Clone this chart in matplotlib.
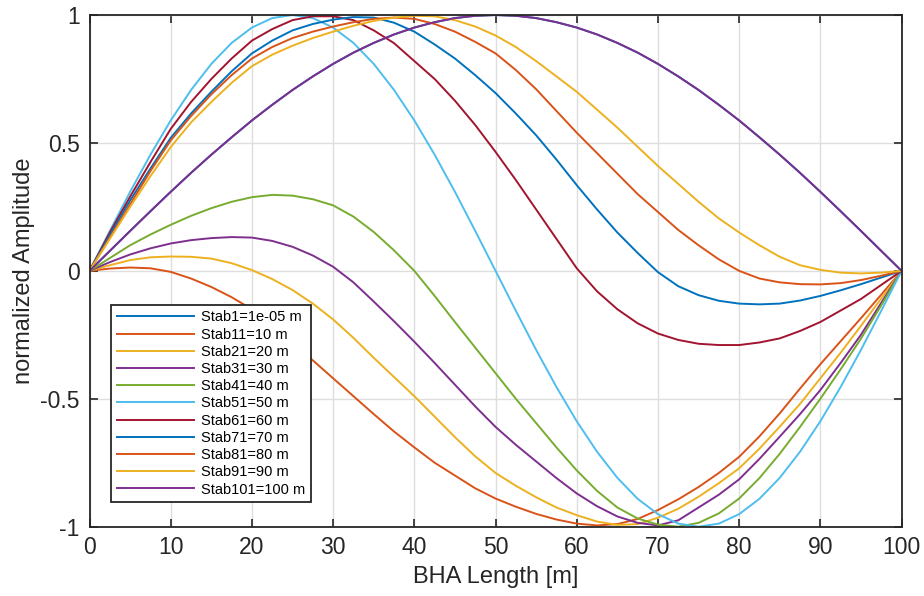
import matplotlib
matplotlib.use("Agg")
import matplotlib.pyplot as plt

bha_x = [0, 2.5, 5, 7.5, 10, 12.5, 15, 17.5, 20, 22.5, 25, 27.5, 30, 32.5, 35, 37.5,
         40, 42.5, 45, 47.5, 50, 52.5, 55, 57.5, 60, 62.5, 65, 67.5, 70, 72.5, 75,
         77.5, 80, 82.5, 85, 87.5, 90, 92.5, 95, 97.5, 100]

# normalized amplitude of each mode shape
stab1 = [0, 0.078, 0.156, 0.233, 0.309, 0.383, 0.454, 0.522, 0.588, 0.649, 0.707,
         0.760, 0.809, 0.853, 0.891, 0.924, 0.951, 0.972, 0.988, 0.997, 1.0,
         0.997, 0.988, 0.972, 0.951, 0.924, 0.891, 0.853, 0.809, 0.760, 0.707,
         0.649, 0.588, 0.522, 0.454, 0.383, 0.309, 0.233, 0.156, 0.078, 0]
stab11 = [0, 0.009, 0.013, 0.010, -0.004, -0.030, -0.063, -0.103, -0.150, -0.213, -0.280,
          -0.350, -0.420, -0.490, -0.560, -0.628, -0.690, -0.750, -0.800, -0.850, -0.890,
          -0.922, -0.950, -0.972, -0.988, -0.995, -0.990, -0.970, -0.935, -0.893, -0.845,
          -0.790, -0.727, -0.647, -0.557, -0.460, -0.365, -0.275, -0.185, -0.093, 0]
stab21 = [0, 0.022, 0.042, 0.053, 0.056, 0.055, 0.048, 0.030, 0.003, -0.032, -0.075,
          -0.128, -0.190, -0.262, -0.340, -0.415, -0.490, -0.570, -0.650, -0.725, -0.790,
          -0.840, -0.885, -0.925, -0.955, -0.980, -0.993, -0.990, -0.965, -0.930, -0.883,
          -0.830, -0.772, -0.695, -0.609, -0.520, -0.420, -0.320, -0.215, -0.108, 0]
stab31 = [0, 0.034, 0.064, 0.088, 0.107, 0.120, 0.128, 0.132, 0.130, 0.117, 0.094,
          0.060, 0.016, -0.045, -0.120, -0.197, -0.277, -0.360, -0.445, -0.530, -0.610,
          -0.680, -0.745, -0.810, -0.870, -0.920, -0.960, -0.985, -0.995, -0.975, -0.925,
          -0.875, -0.815, -0.735, -0.648, -0.560, -0.466, -0.360, -0.250, -0.125, 0]
stab41 = [0, 0.050, 0.100, 0.142, 0.180, 0.215, 0.245, 0.270, 0.288, 0.297, 0.294,
          0.280, 0.256, 0.212, 0.152, 0.080, 0.000, -0.098, -0.200, -0.300, -0.400,
          -0.500, -0.595, -0.690, -0.780, -0.860, -0.925, -0.968, -0.992, -1.000, -0.985,
          -0.948, -0.890, -0.810, -0.715, -0.610, -0.500, -0.385, -0.265, -0.135, 0]
stab51 = [0, 0.156, 0.309, 0.454, 0.588, 0.707, 0.809, 0.891, 0.951, 0.988, 1.0,
          0.988, 0.951, 0.891, 0.809, 0.707, 0.588, 0.454, 0.309, 0.156, 0,
          -0.156, -0.309, -0.454, -0.588, -0.707, -0.809, -0.891, -0.951, -0.988, -1.0,
          -0.988, -0.951, -0.891, -0.809, -0.707, -0.588, -0.454, -0.309, -0.156, 0]
stab61 = [0, 0.150, 0.290, 0.425, 0.555, 0.660, 0.750, 0.830, 0.900, 0.945, 0.980,
          0.995, 0.995, 0.980, 0.940, 0.890, 0.820, 0.750, 0.665, 0.570, 0.465,
          0.355, 0.240, 0.125, 0.010, -0.080, -0.150, -0.205, -0.245, -0.270, -0.285,
          -0.290, -0.290, -0.280, -0.264, -0.235, -0.200, -0.155, -0.110, -0.055, 0]
stab71 = [0, 0.140, 0.275, 0.400, 0.520, 0.615, 0.700, 0.780, 0.850, 0.900, 0.940,
          0.965, 0.982, 0.992, 0.990, 0.970, 0.935, 0.885, 0.830, 0.765, 0.695,
          0.615, 0.530, 0.435, 0.335, 0.240, 0.150, 0.070, -0.005, -0.060, -0.095,
          -0.117, -0.128, -0.131, -0.128, -0.116, -0.098, -0.076, -0.052, -0.026, 0]
stab81 = [0, 0.130, 0.260, 0.390, 0.510, 0.605, 0.690, 0.765, 0.830, 0.875, 0.910,
          0.935, 0.955, 0.972, 0.985, 0.990, 0.985, 0.965, 0.935, 0.895, 0.850,
          0.785, 0.710, 0.625, 0.540, 0.460, 0.380, 0.300, 0.230, 0.160, 0.100,
          0.045, 0.000, -0.030, -0.045, -0.052, -0.053, -0.048, -0.036, -0.019, 0]
stab91 = [0, 0.125, 0.250, 0.370, 0.484, 0.580, 0.660, 0.735, 0.800, 0.845, 0.880,
          0.910, 0.935, 0.958, 0.977, 0.990, 0.997, 0.995, 0.980, 0.955, 0.920,
          0.875, 0.820, 0.760, 0.700, 0.630, 0.560, 0.485, 0.410, 0.340, 0.270,
          0.205, 0.150, 0.100, 0.055, 0.022, 0.004, -0.007, -0.010, -0.007, 0]
stab101 = [0, 0.078, 0.156, 0.233, 0.309, 0.383, 0.454, 0.522, 0.588, 0.649, 0.707,
           0.760, 0.809, 0.853, 0.891, 0.924, 0.951, 0.972, 0.988, 0.997, 1.0,
           0.997, 0.988, 0.972, 0.951, 0.924, 0.891, 0.853, 0.809, 0.760, 0.707,
           0.649, 0.588, 0.522, 0.454, 0.383, 0.309, 0.233, 0.156, 0.078, 0]

curves = [stab1, stab11, stab21, stab31, stab41, stab51,
          stab61, stab71, stab81, stab91, stab101]
labels = ["Stab1=1e-05 m", "Stab11=10 m", "Stab21=20 m", "Stab31=30 m",
          "Stab41=40 m", "Stab51=50 m", "Stab61=60 m", "Stab71=70 m",
          "Stab81=80 m", "Stab91=90 m", "Stab101=100 m"]

# MATLAB default line colour order
colors = ["#0072BD", "#D95319", "#EDB120", "#7E2F8E",
          "#77AC30", "#4DBEEE", "#A2142F"]

plt.rcParams["font.family"] = ["Liberation Sans", "DejaVu Sans"]

fig = plt.figure(figsize=(9.24, 5.96), dpi=100)
ax = fig.add_axes([0.0969, 0.1163, 0.8788, 0.8585])

for i, (y, lab) in enumerate(zip(curves, labels)):
    ax.plot(bha_x, y, color=colors[i % len(colors)], lw=1.4, label=lab)

ax.set_xlim(0, 100)
ax.set_ylim(-1, 1)
ax.set_xticks(range(0, 101, 10))
ax.set_yticks([-1, -0.5, 0, 0.5, 1])
ax.set_yticklabels(["-1", "-0.5", "0", "0.5", "1"])
ax.grid(True, color="#dedede", lw=1.0)
ax.set_axisbelow(True)
ax.tick_params(direction="in", length=6, width=1.2, top=True, right=True,
               labelsize=16.5, colors="#262626", pad=7)
for sp in ax.spines.values():
    sp.set_color("#262626")
    sp.set_linewidth(1.3)

ax.set_xlabel("BHA Length [m]", fontsize=17, color="#262626", labelpad=5)
ax.set_ylabel("normalized Amplitude", fontsize=17, color="#262626", labelpad=4)

leg = ax.legend(loc="lower left", bbox_to_anchor=(0.027, 0.049), borderaxespad=0,
                fontsize=10.5, fancybox=False, edgecolor="#262626", framealpha=1,
                handlelength=5.3, handletextpad=0.5, labelspacing=0.22,
                borderpad=0.35)
leg.get_frame().set_linewidth(1.3)

fig.savefig("out.png", dpi=100)
